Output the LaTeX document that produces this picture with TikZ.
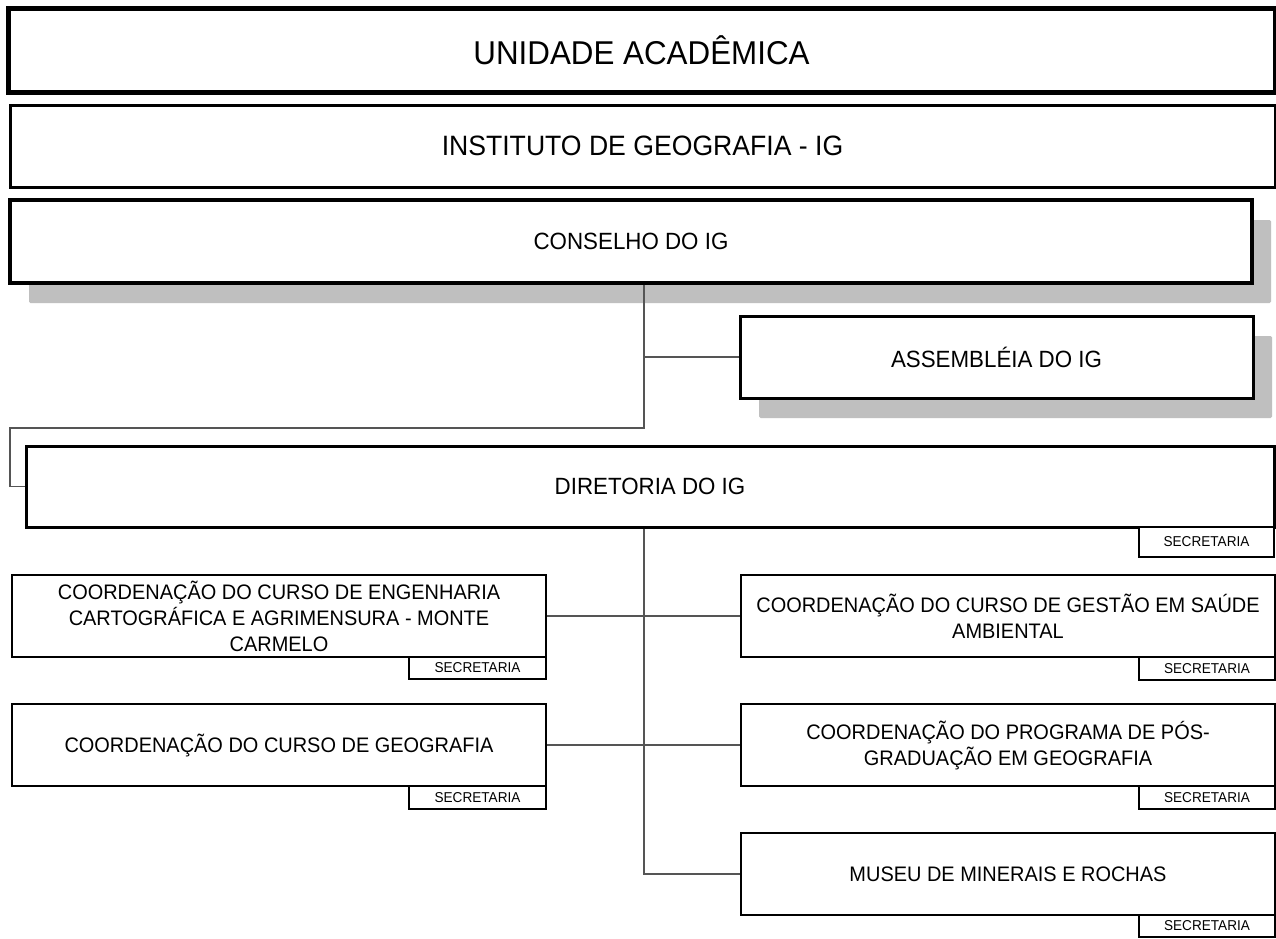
\documentclass[tikz,border=0pt]{standalone}
\usepackage{fontspec}
\setmainfont{Liberation Sans}[FakeStretch=0.95]
\definecolor{shadowgray}{HTML}{BFBFBF}
\definecolor{conngray}{HTML}{555555}
\begin{document}
\begin{tikzpicture}[x=1pt,y=-1pt,
  box/.style={draw, fill=white, rectangle, inner sep=0pt, align=center},
  shadowbox/.style={fill=shadowgray, rounded corners=1.5pt},
  midbox/.style={box, line width=1.8pt, minimum width=534pt, minimum height=82pt, font=\fontsize{21}{26}\selectfont},
  secbox/.style={box, line width=1.8pt, minimum width=136pt, font=\fontsize{14.3}{16}\selectfont},
  conn/.style={draw=conngray, line width=1.1pt},
]
\useasboundingbox[fill=white] (0,0) rectangle (1276,938);

% shadows
\fill[shadowbox] (29,220) rectangle (1271,303);
\fill[shadowbox] (759,336) rectangle (1272,418);

% main boxes
\node[box, line width=5pt, minimum width=1267pt, minimum height=84pt, font=\fontsize{33}{38}\selectfont] (unidade) at (641.5,50) {UNIDADE ACADÊMICA};
\node[box, line width=3pt, minimum width=1265pt, minimum height=82pt, font=\fontsize{28}{32}\selectfont] (instituto) at (642.5,146) {INSTITUTO DE GEOGRAFIA - IG};
\node[box, line width=3.5pt, minimum width=1242pt, minimum height=83pt, font=\fontsize{23.5}{28}\selectfont] (conselho) at (631,241.5) {CONSELHO DO IG};
\node[box, line width=3pt, minimum width=513pt, minimum height=82pt, font=\fontsize{23.5}{28}\selectfont] (assembleia) at (996.5,357) {ASSEMBLÉIA DO IG};
\node[box, line width=3pt, minimum width=1248pt, minimum height=81pt, font=\fontsize{23.5}{28}\selectfont] (diretoria) at (650,486.5) {DIRETORIA DO IG};
\node[secbox, minimum width=135pt, minimum height=30pt] (sec0) at (1206.5,542) {SECRETARIA};

% left column
\node[midbox] (eng) at (279,616) {COORDENAÇÃO DO CURSO DE ENGENHARIA\\CARTOGRÁFICA E AGRIMENSURA - MONTE\\CARMELO};
\node[secbox, minimum width=137pt, minimum height=22pt] (sec1) at (477.5,668) {SECRETARIA};
\node[midbox] (geo) at (279,745) {COORDENAÇÃO DO CURSO DE GEOGRAFIA};
\node[secbox, minimum width=137pt, minimum height=23pt] (sec2) at (477.5,797.5) {SECRETARIA};

% right column
\node[midbox] (gestao) at (1008,616) {COORDENAÇÃO DO CURSO DE GESTÃO EM SAÚDE\\AMBIENTAL};
\node[secbox, minimum height=23pt] (sec3) at (1207,668.5) {SECRETARIA};
\node[midbox] (pos) at (1008,745) {COORDENAÇÃO DO PROGRAMA DE PÓS-\\GRADUAÇÃO EM GEOGRAFIA};
\node[secbox, minimum height=23pt] (sec4) at (1207,797.5) {SECRETARIA};
\node[midbox] (museu) at (1008,874) {MUSEU DE MINERAIS E ROCHAS};
\node[secbox, minimum height=22pt] (sec5) at (1207,926) {SECRETARIA};

% connectors
\coordinate (tA) at (644,428);
\coordinate (tB) at (10,428);
\coordinate (tC) at (644,874);
\draw[conn] (conselho.south -| tA) -- (tA) -- (tB) |- (diretoria.west);
\draw[conn] (conselho.south -| tA) |- (assembleia.west);
\draw[conn] (diretoria.south -| tC) -- (tC) -- (museu.west);
\draw[conn] (eng.east) -- (gestao.west);
\draw[conn] (geo.east) -- (pos.west);
\end{tikzpicture}
\end{document}
